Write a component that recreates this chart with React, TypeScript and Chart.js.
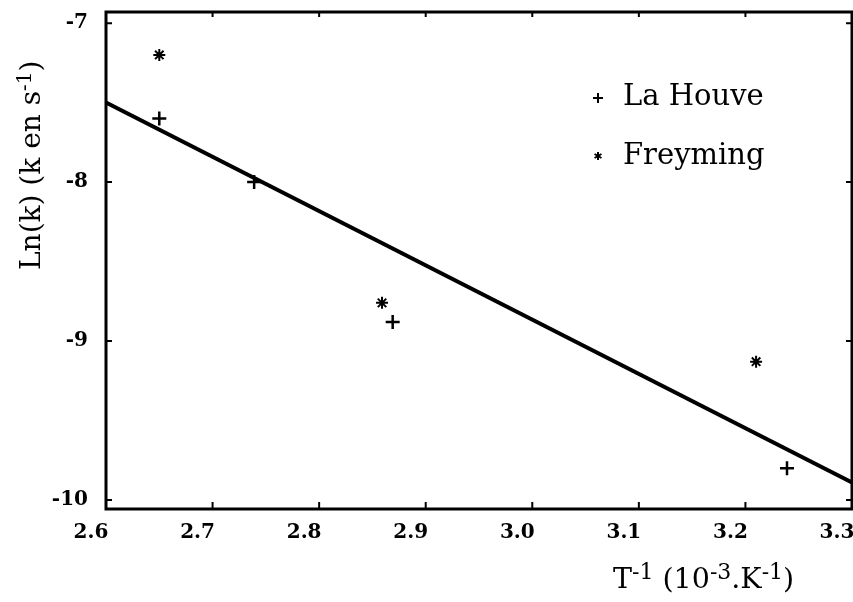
import React, { useEffect, useRef } from 'react';
import { Chart, registerables } from 'chart.js';

Chart.register(...registerables);

// ---- data ----
const xTicks = [2.6, 2.7, 2.8, 2.9, 3.0, 3.1, 3.2, 3.3];
const yTicks = [-7, -8, -9, -10];
const laHouveX = [2.65, 2.739, 2.869, 3.239];
const laHouveY = [-7.6, -8.0, -8.88, -9.8];
const freymingX = [2.65, 2.859, 3.21];
const freymingY = [-7.2, -8.76, -9.13];
const fitX = [2.6, 3.3];
const fitY = [-7.5, -9.89];
const legendLabels = ['La Houve', 'Freyming'];

const SERIF = '"DejaVu Serif", "Liberation Serif", serif';

type Part = { t: string; sup?: boolean };

function drawRich(ctx: CanvasRenderingContext2D, parts: Part[], x: number, y: number, base: number, sup: number, rise: number) {
  let cx = x;
  for (const p of parts) {
    ctx.font = `${p.sup ? sup : base}px ${SERIF}`;
    ctx.fillText(p.t, cx, p.sup ? y - rise : y);
    cx += ctx.measureText(p.t).width;
  }
}

const decorPlugin = {
  id: 'decor',
  afterDraw(chart: any) {
    const ctx: CanvasRenderingContext2D = chart.ctx;
    const { left, right, top, bottom } = chart.chartArea;
    const xs = chart.scales.x;
    const ys = chart.scales.y;
    ctx.save();
    ctx.strokeStyle = '#000';
    ctx.fillStyle = '#000';
    // frame
    ctx.lineWidth = 3;
    ctx.strokeRect(left, top, right - left, bottom - top);
    // inside tick marks
    ctx.lineWidth = 2;
    ctx.beginPath();
    xTicks.slice(1, -1).forEach((v) => {
      const px = xs.getPixelForValue(v);
      ctx.moveTo(px, bottom);
      ctx.lineTo(px, bottom - 7);
      ctx.moveTo(px, top);
      ctx.lineTo(px, top + 5);
    });
    yTicks.forEach((v) => {
      const py = ys.getPixelForValue(v);
      ctx.moveTo(left, py);
      ctx.lineTo(left + 6, py);
      ctx.moveTo(right, py);
      ctx.lineTo(right - 6, py);
    });
    ctx.stroke();

    // legend
    ctx.lineWidth = 2;
    ctx.beginPath();
    const lx = 598;
    const ly1 = 98;
    ctx.moveTo(lx - 5, ly1);
    ctx.lineTo(lx + 5, ly1);
    ctx.moveTo(lx, ly1 - 5);
    ctx.lineTo(lx, ly1 + 5);
    const ly2 = 156;
    const r = 4;
    for (let k = 0; k < 3; k++) {
      const a = (Math.PI / 3) * k + Math.PI / 2;
      ctx.moveTo(lx + r * Math.cos(a), ly2 + r * Math.sin(a));
      ctx.lineTo(lx - r * Math.cos(a), ly2 - r * Math.sin(a));
    }
    ctx.stroke();
    ctx.textBaseline = 'alphabetic';
    ctx.textAlign = 'left';
    ctx.font = `29px ${SERIF}`;
    ctx.fillText(legendLabels[0], 623, 105);
    ctx.fillText(legendLabels[1], 623, 164);

    // x title
    drawRich(ctx, [
      { t: 'T' }, { t: '-1', sup: true }, { t: ' (10' }, { t: '-3', sup: true },
      { t: '.K' }, { t: '-1', sup: true }, { t: ')' },
    ], 613, 588, 28.5, 22, 9);

    // y title
    ctx.translate(40, 270);
    ctx.rotate(-Math.PI / 2);
    drawRich(ctx, [
      { t: 'Ln(k) (k en s' }, { t: '-1', sup: true }, { t: ')' },
    ], 0, 0, 28, 20, 9);
    ctx.restore();
  },
};

export default function App() {
  const ref = useRef<HTMLCanvasElement | null>(null);

  useEffect(() => {
    document.body.style.margin = '0';
    if (!ref.current) return;
    const chart = new Chart(ref.current, {
      type: 'scatter',
      data: {
        datasets: [
          {
            label: 'fit',
            data: fitX.map((x, i) => ({ x, y: fitY[i] })),
            showLine: true,
            borderColor: '#000',
            borderWidth: 4,
            pointRadius: 0,
          },
          {
            label: legendLabels[0],
            data: laHouveX.map((x, i) => ({ x, y: laHouveY[i] })),
            pointStyle: 'cross',
            pointRadius: 7,
            borderColor: '#000',
            backgroundColor: '#000',
            borderWidth: 2.5,
          },
          {
            label: legendLabels[1],
            data: freymingX.map((x, i) => ({ x, y: freymingY[i] })),
            pointStyle: 'star',
            pointRadius: 6,
            borderColor: '#000',
            backgroundColor: '#000',
            borderWidth: 2,
          },
        ],
      },
      options: {
        animation: false,
        responsive: false,
        devicePixelRatio: 1,
        layout: { autoPadding: false, padding: { top: 12, right: 1, left: 0, bottom: 0 } },
        plugins: {
          legend: { display: false },
          tooltip: { enabled: false },
          title: { display: false },
        },
        scales: {
          x: {
            type: 'linear',
            min: 2.6,
            max: 3.3,
            grid: { display: false, drawTicks: false },
            border: { display: false },
            afterBuildTicks: (s: any) => {
              s.ticks = xTicks.map((v) => ({ value: v }));
            },
            afterFit: (s: any) => {
              s.height = 93;
              s.paddingLeft = 0;
              s.paddingRight = 0;
              s.paddingTop = 0;
              s.paddingBottom = 0;
            },
            ticks: {
              color: '#000',
              font: { family: SERIF, size: 20, weight: 'bold' },
              padding: 12,
              labelOffset: -15,
              maxRotation: 0,
              autoSkip: false,
              callback: (v: any) => Number(v).toFixed(1),
            },
          },
          y: {
            type: 'linear',
            min: -10.057,
            max: -6.93,
            grid: { display: false, drawTicks: false },
            border: { display: false },
            afterBuildTicks: (s: any) => {
              s.ticks = yTicks.map((v) => ({ value: v }));
            },
            afterFit: (s: any) => {
              s.width = 106;
              s.paddingLeft = 0;
              s.paddingRight = 0;
              s.paddingTop = 0;
              s.paddingBottom = 0;
            },
            ticks: {
              color: '#000',
              font: { family: SERIF, size: 20, weight: 'bold' },
              padding: 18,
              autoSkip: false,
              callback: (v: any) => String(v),
            },
          },
        },
      },
      plugins: [decorPlugin],
    });
    return () => chart.destroy();
  }, []);

  return (
    <div style={{ width: 853, height: 602, background: '#fff' }}>
      <canvas ref={ref} width={853} height={602} />
    </div>
  );
}
